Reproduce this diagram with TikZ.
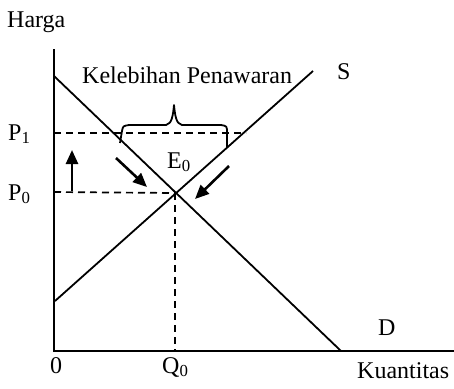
\documentclass[tikz,border=0pt]{standalone}
\usepackage{fontspec}
\setmainfont{Liberation Serif}
\usetikzlibrary{arrows.meta,calc}
\begin{document}
\begin{tikzpicture}[x=1pt,y=-1pt,
  lbl/.style={inner sep=0pt,anchor=base west,font=\fontsize{24}{28}\selectfont},
  axisline/.style={line width=2.2pt},
  curve/.style={line width=1.8pt},
  guide/.style={line width=1.7pt,dash pattern=on 7pt off 5pt},
  move/.style={line width=2.6pt,-{Triangle[length=14pt,width=12pt]}}]
\useasboundingbox (0,0) rectangle (454,388);
% axes
\coordinate (O) at (54,351);
\coordinate (Ytop) at (54,49);
\coordinate (Xend) at (454,351);
\draw[axisline] (Ytop) -- (O) -- (Xend);
% equilibrium and curves
\coordinate (E) at (175,193);
\coordinate (Dtop) at (54,76);
\coordinate (Dbot) at (341,351);
\coordinate (Sbot) at (55,301);
\coordinate (Stop) at (313,71);
\draw[curve] (Dtop) -- (Dbot);
\draw[curve] (Sbot) -- (Stop);
% guides
\coordinate (P1a) at (54,133);
\coordinate (P1b) at (246,133);
\coordinate (P0a) at (54,192);
\coordinate (Q0a) at (175,351);
\draw[guide] (P1a) -- (P1b);
\draw[guide] (P0a) -- (E);
\draw[guide] (E) -- (Q0a);
% brace
\draw[curve,line join=round] (120,143) -- (122,131) .. controls (123,126) .. (129,125)
  -- (166,125) .. controls (172,124) and (173,115) .. (174,105)
  .. controls (175,115) and (176,124) .. (182,125) -- (221,125)
  .. controls (227,126) .. (227,133) -- (227,148);
% arrows
\coordinate (U1) at (72,191);
\coordinate (U2) at (72,150);
\draw[move] (U1) -- (U2);
\coordinate (A1) at (116,158);
\coordinate (A2) at (147,187);
\draw[move] (A1) -- (A2);
\coordinate (B1) at (229,166);
\coordinate (B2) at (195,199);
\draw[move] (B1) -- (B2);
% labels
\node[lbl] (harga) at (7,27) {Harga};
\node[lbl] (kp) at (82,83) {Kelebihan Penawaran};
\node[lbl] (S) at (337,79) {S};
\node[lbl] (P1) at (8,140) {P\textsubscript{1}};
\node[lbl] (P0) at (8,200) {P\textsubscript{0}};
\node[lbl] (E0) at (167,168) {E\textsubscript{0}};
\node[lbl] (zero) at (50,373) {0};
\node[lbl] (Q0) at (162,373) {Q\textsubscript{0}};
\node[lbl] (kuant) at (357,378) {Kuantitas};
\node[lbl] (D) at (378,335) {D};
\end{tikzpicture}
\end{document}
